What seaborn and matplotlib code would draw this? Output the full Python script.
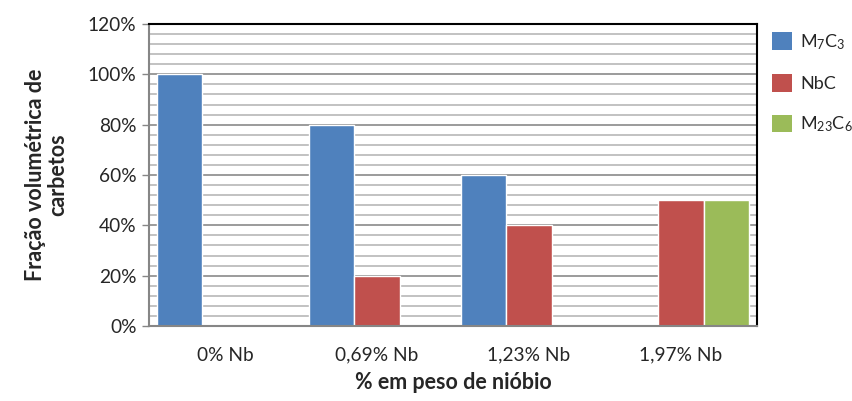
import matplotlib
matplotlib.use("Agg")
import matplotlib.pyplot as plt
import matplotlib.ticker as mticker
from matplotlib.patches import Patch
import numpy as np
import pandas as pd
import seaborn as sns

# --- data ---
categories = ['0% Nb', '0,69% Nb', '1,23% Nb', '1,97% Nb']
series = ['M$_7$C$_3$', 'NbC', 'M$_{23}$C$_6$']
m7c3 = [1.00, 0.80, 0.60, 0.00]
nbc = [0.00, 0.20, 0.40, 0.50]
m23c6 = [0.00, 0.00, 0.00, 0.50]

colors = ['#4F81BD', '#C0504D', '#9BBB59']

rows = []
for name, vals in zip(series, [m7c3, nbc, m23c6]):
    for cat, v in zip(categories, vals):
        rows.append({'Teor': cat, 'Carbeto': name, 'Fracao': v})
df = pd.DataFrame(rows)

sns.set_theme(style="white")
plt.rcParams['font.family'] = ['Lato', 'DejaVu Sans']
plt.rcParams['mathtext.fontset'] = 'custom'
plt.rcParams['mathtext.rm'] = 'Lato'
plt.rcParams['mathtext.it'] = 'Lato'

fig = plt.figure(figsize=(8.53, 4.01), dpi=100)
ax = fig.add_axes([149 / 853, 1 - 326 / 401, 608 / 853, 302 / 401])

sns.barplot(data=df, x='Teor', y='Fracao', hue='Carbeto', order=categories,
            hue_order=series, palette=colors, width=0.9, errorbar=None,
            edgecolor='white', linewidth=1.0, saturation=1, ax=ax, legend=False,
            zorder=2)

ax.set_ylim(0, 1.2)
ax.yaxis.set_major_locator(mticker.MultipleLocator(0.2))
ax.yaxis.set_minor_locator(mticker.MultipleLocator(0.04))
ax.yaxis.set_major_formatter(mticker.PercentFormatter(xmax=1.0, decimals=0))
ax.set_axisbelow(True)
ax.grid(axis='y', which='major', color='#8a8a8a', linewidth=1.2, zorder=0)
ax.grid(axis='y', which='minor', color='#b8b8b8', linewidth=1.2, zorder=0)
ax.grid(axis='x', visible=False)

for side in ['left', 'bottom']:
    ax.spines[side].set_color('#868686')
    ax.spines[side].set_linewidth(1.5)
for side in ['top', 'right']:
    ax.spines[side].set_color('black')
    ax.spines[side].set_linewidth(1.5)

ax.tick_params(axis='y', which='major', left=True, length=5, width=1,
               color='#868686', labelsize=13.8, pad=4)
ax.tick_params(axis='y', which='minor', left=False)
ax.tick_params(axis='x', bottom=False, labelsize=13.8, pad=9)

ax.set_xlabel('% em peso de nióbio', fontsize=15.5, fontweight='bold', labelpad=6)
ax.set_ylabel('Fração volumétrica de\ncarbetos', fontsize=15.5,
              fontweight='bold', labelpad=14, linespacing=1.1)

handles = [Patch(facecolor=c, edgecolor='none') for c in colors]
fig.legend(handles, series, loc='upper left', bbox_to_anchor=(772 / 853, 1 - 32 / 401),
           frameon=False, fontsize=13, handlelength=1.1, handleheight=1.1,
           labelspacing=1.25, handletextpad=0.45, borderaxespad=0, borderpad=0)

fig.savefig('out.png', dpi=100)
